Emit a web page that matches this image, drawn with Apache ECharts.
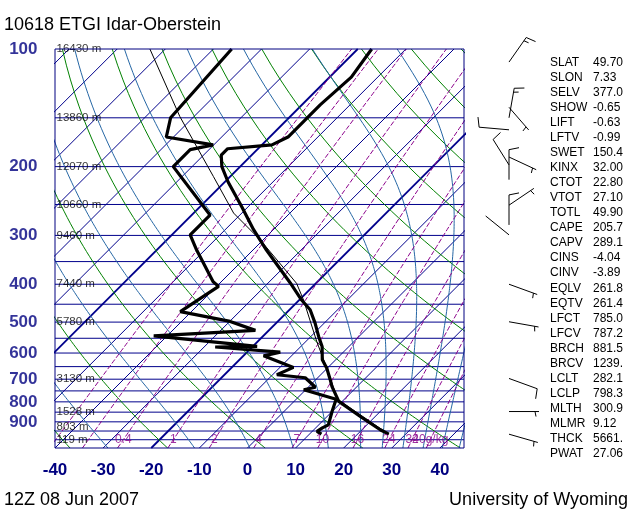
<!DOCTYPE html>
<html>
<head>
<meta charset="utf-8">
<script src="https://cdn.jsdelivr.net/npm/echarts/dist/echarts.min.js"></script>
<style>
  html, body { margin: 0; padding: 0; background: #fff; }
  #main { width: 640px; height: 512px; }
</style>
</head>
<body>
<div id="main"></div>
<script>
// sounding 10618 ETGI, 12Z 08 Jun 2007
var tempP = [100, 118, 139, 168, 176, 180, 187, 200, 219, 253, 290, 327, 397, 439, 465, 503, 544, 577, 624, 656, 702, 731, 778, 798, 872, 943, 968];
var tempT = [-57.1, -55.5, -56.2, -56.2, -57.9, -66.3, -66.3, -63.8, -59.3, -51.4, -44.1, -37.2, -25.4, -19.5, -15.7, -11.9, -8.4, -5.6, -2.8, -0.1, 3.0, 4.8, 8.0, 9.3, 16.9, 23.8, 26.5];

var dewP = [100, 150, 168, 176, 181, 200, 266, 299, 327, 394, 405, 470, 498, 525, 542, 577, 579, 597, 610, 653, 682, 694, 734, 745, 788, 847, 916, 933, 952, 968];
var dewT = [-86.2, -84.6, -81.5, -70.1, -73.9, -73.9, -56.2, -56.2, -51.7, -41.7, -39.6, -42.3, -29.9, -22.8, -42.8, -19.1, -27.7, -13.1, -15.8, -7.2, -9.1, -2.6, 1.5, -0.4, 8.3, 10.0, 12.0, 11.4, 11.0, 12.5];

var parcelP = [100, 149, 212, 263, 308, 398, 439, 561, 656, 788, 968];
var parcelT = [-103.2, -82.9, -63.5, -51.7, -40.6, -24.0, -19.1, -7.7, -0.1, 8.6, 26.5];

// wind barbs: pressure, direction (deg), speed (kt)
var windP = [108, 141, 150, 161, 189, 198, 216, 251, 282, 299, 400, 499, 697, 847, 968];
var windDir = [35, 139, 10, 275, 115, 328, 0, 56, 0, 309, 110, 100, 110, 90, 106];
var windSpd = [15, 5, 15, 10, 3, 10, 10, 5, 10, 2, 5, 5, 10, 5, 5];

// background lines
var isobars = [150, 200, 250, 300, 350, 400, 450, 500, 550, 600, 650, 700, 750, 800, 850, 900, 950, 1000];
var isotherms = [-120, -110, -100, -90, -80, -70, -60, -50, -40, -30, -20, -10, 0, 10, 20, 30, 40];
var dryTheta = [233, 253, 273, 293, 313, 333, 353, 373, 393, 413, 433, 453, 473];
var moistBaseT = [-29, -11, 0.5, 9.5, 16.8, 23.5, 28, 32.3, 36.5, 40.5, 44];
var mixRatios = [0.1, 0.2, 0.4, 1, 2, 4, 7, 10, 16, 24, 32, 40];
var mixLabelled = [0.4, 1, 2, 4, 7, 10, 16, 24, 32, 40];

// axis labels
var pressLabels = [100, 200, 300, 400, 500, 600, 700, 800, 900];
var heightP = [100, 150, 200, 250, 300, 400, 500, 700, 850, 925, 1000];
var heightTxt = ['16430 m', '13860 m', '12070 m', '10660 m', '9460 m', '7440 m', '5780 m', '3130 m', '1528 m', '803 m', '119 m'];

var statNames = ['SLAT', 'SLON', 'SELV', 'SHOW', 'LIFT', 'LFTV', 'SWET', 'KINX', 'CTOT', 'VTOT', 'TOTL', 'CAPE', 'CAPV', 'CINS', 'CINV', 'EQLV', 'EQTV', 'LFCT', 'LFCV', 'BRCH', 'BRCV', 'LCLT', 'LCLP', 'MLTH', 'MLMR', 'THCK', 'PWAT'];
var statValues = ['49.70', '7.33', '377.0', '-0.65', '-0.63', '-0.99', '150.4', '32.00', '22.80', '27.10', '49.90', '205.7', '289.1', '-4.04', '-3.89', '261.8', '261.4', '785.0', '787.2', '881.5', '1239.', '282.1', '798.3', '300.9', '9.12', '5661.', '27.06'];

var PBOT = 1050, PTOP = 100;
var SKEW = 81.2;  // deg of shift per decade of pressure (45 deg isotherms)
var NAVY = '#000080';
var FONT = '"Liberation Sans", Arial, Helvetica, sans-serif';

function skx(T, p) { return T + SKEW * Math.log10(PBOT / p); }

function pairs(P, T) {
  return P.map(function (p, i) { return [skx(T[i], p), p]; });
}

// pressure steps for drawing curves
var steps = [];
for (var pp = PBOT; pp >= PTOP; pp -= 10) steps.push(pp);
if (steps[steps.length - 1] !== PTOP) steps.push(PTOP);

function esat(tc) { return 6.112 * Math.exp(17.67 * tc / (tc + 243.5)); }

function moistLapse(tk, p) {
  var tc = tk - 273.15;
  var es = esat(tc);
  var rs = 0.622 * es / (p - es);
  return (287.04 * tk + 2.501e6 * rs) /
    (p * (1005.7 + 2.501e6 * 2.501e6 * rs * 0.622 / (287.04 * tk * tk)));
}

function moistCurve(t0) {
  var pts = [], tk = t0 + 273.15, dp = -5;
  for (var p = PBOT; p >= PTOP; p += dp) {
    pts.push([skx(tk - 273.15, p), p]);
    var k1 = moistLapse(tk, p);
    var k2 = moistLapse(tk + k1 * dp / 2, p + dp / 2);
    tk += k2 * dp;
  }
  return pts;
}

function dryCurve(th) {
  return steps.map(function (p) {
    return [skx(th * Math.pow(p / 1000, 0.2857) - 273.15, p), p];
  });
}

function mixTd(w, p) {
  var e = w * p / (622 + w);
  var l = Math.log(e / 6.112);
  return 243.5 * l / (17.67 - l);
}

function mixCurve(w) {
  return steps.map(function (p) { return [skx(mixTd(w, p), p), p]; });
}

function bgLine(name, data, color, width, dashed, z) {
  return {
    name: name, type: 'line', data: data, xAxisIndex: 0, yAxisIndex: 0,
    symbol: 'none', silent: true, animation: false, clip: true, z: z,
    lineStyle: { color: color, width: width, type: dashed ? [5, 2] : 'solid' }
  };
}

var series = [];

isobars.forEach(function (p) {
  series.push(bgLine('isobar', [[-40, p], [45, p]], '#00008b', 1, false, 2));
});
isotherms.forEach(function (t) {
  var w = (t === -20 || t === -60) ? 1.8 : 1;
  series.push(bgLine('isotherm', [[skx(t, PBOT), PBOT], [skx(t, PTOP), PTOP]], '#00008b', w, false, 2));
});
dryTheta.forEach(function (th) {
  series.push(bgLine('dry', dryCurve(th), '#008000', 1, false, 2));
});
moistBaseT.forEach(function (t) {
  series.push(bgLine('moist', moistCurve(t), '#2566a4', 1, false, 2));
});
mixRatios.forEach(function (w) {
  series.push(bgLine('mix', mixCurve(w), '#8b008b', 1, true, 2));
});

// profiles
series.push(bgLine('parcel', pairs(parcelP, parcelT), '#000', 1, false, 5));
series.push(bgLine('temp', pairs(tempP, tempT), '#000', 3.2, false, 6));
series.push(bgLine('dew', pairs(dewP, dewT), '#000', 3.2, false, 6));

// label helpers (scatter points carrying text only)
function labelSeries(data, label, z) {
  return {
    type: 'scatter', data: data, symbolSize: 1, silent: true, animation: false,
    itemStyle: { color: 'rgba(0,0,0,0)' }, clip: false, z: z, label: label
  };
}

series.push(labelSeries(
  pressLabels.map(function (p) { return { value: [-40, p], name: String(p) }; }),
  { show: true, position: 'left', distance: 17, formatter: '{b}', color: NAVY,
    fontFamily: FONT, fontWeight: 'bold', fontSize: 17 }, 7));

series.push(labelSeries(
  heightP.map(function (p, i) { return { value: [-40, p], name: heightTxt[i] }; }),
  { show: true, position: 'right', distance: 1, formatter: '{b}', color: '#000',
    fontFamily: FONT, fontSize: 11.5 }, 7));

series.push(labelSeries(
  mixLabelled.map(function (w) {
    return { value: [skx(mixTd(w, 1000), 1000), 1000], name: w === 40 ? '40g/kg' : String(w) };
  }),
  { show: true, position: 'inside', formatter: '{b}', color: '#8b008b',
    fontFamily: FONT, fontSize: 12 }, 7));

// wind barbs in their own strip to the right
series.push({
  type: 'custom', xAxisIndex: 1, yAxisIndex: 1, silent: true, animation: false, clip: false,
  data: windP.map(function (p, i) { return [p, windDir[i], windSpd[i]]; }),
  renderItem: function (params, api) {
    var st = api.coord([0.5, api.value(0)]);
    var a = api.value(1) * Math.PI / 180;
    var spd = api.value(2);
    var ux = Math.sin(a), uy = -Math.cos(a);
    var L = 30;
    var tip = [st[0] + ux * L, st[1] + uy * L];
    var px = -uy, py = ux;
    var style = { stroke: '#000', lineWidth: 1 };
    var kids = [{ type: 'line', shape: { x1: st[0], y1: st[1], x2: tip[0], y2: tip[1] }, style: style }];
    var rest = Math.round(spd / 5) * 5;
    var pos = rest < 10 ? 4 : 0;
    while (rest >= 10) {
      var b = [tip[0] - ux * pos, tip[1] - uy * pos];
      kids.push({ type: 'line', shape: { x1: b[0], y1: b[1], x2: b[0] + px * 10 + ux * 2, y2: b[1] + py * 10 + uy * 2 }, style: style });
      pos += 4; rest -= 10;
    }
    if (rest >= 5) {
      var h = [tip[0] - ux * pos, tip[1] - uy * pos];
      kids.push({ type: 'line', shape: { x1: h[0], y1: h[1], x2: h[0] + px * 5 + ux, y2: h[1] + py * 5 + uy }, style: style });
    }
    return { type: 'group', children: kids };
  }
});

// right-hand index table
var graphics = [
  { type: 'text', x: 4, y: 25, style: { text: '10618 ETGI Idar-Oberstein', font: '18px ' + FONT, fill: '#000', textVerticalAlign: 'middle', verticalAlign: 'middle' } },
  { type: 'text', x: 4, y: 500, style: { text: '12Z 08 Jun 2007', font: '18px ' + FONT, fill: '#000', textVerticalAlign: 'middle', verticalAlign: 'middle' } },
  { type: 'text', x: 628, y: 500, style: { text: 'University of Wyoming', font: '18px ' + FONT, fill: '#000', textAlign: 'right', align: 'right', textVerticalAlign: 'middle', verticalAlign: 'middle' } }
];
statNames.forEach(function (n, i) {
  var y = 62.3 + i * 15.06;
  graphics.push({ type: 'text', x: 550, y: y, style: { text: n, font: '12px ' + FONT, fill: '#000', textVerticalAlign: 'middle', verticalAlign: 'middle' } });
  graphics.push({ type: 'text', x: 593, y: y, style: { text: statValues[i], font: '12px ' + FONT, fill: '#000', textVerticalAlign: 'middle', verticalAlign: 'middle' } });
});

var chart = echarts.init(document.getElementById('main'), null, { renderer: 'canvas' });
chart.setOption({
  animation: false,
  backgroundColor: '#fff',
  grid: [
    { left: 55, top: 49, width: 409, height: 399, show: true, borderColor: NAVY, borderWidth: 1, backgroundColor: 'transparent', z: 8 },
    { left: 469, top: 49, width: 80, height: 399, show: false }
  ],
  xAxis: [
    { gridIndex: 0, type: 'value', min: -40, max: 45, interval: 10,
      axisLine: { show: false }, axisTick: { show: false }, splitLine: { show: false },
      axisLabel: { showMaxLabel: false, margin: 14, color: NAVY, fontFamily: FONT, fontWeight: 'bold', fontSize: 17,
        formatter: function (v) { return v % 10 === 0 ? String(v) : ''; } } },
    { gridIndex: 1, type: 'value', min: 0, max: 1, show: false }
  ],
  yAxis: [
    { gridIndex: 0, type: 'log', logBase: 10, min: PTOP, max: PBOT, inverse: true,
      axisLine: { show: false }, axisTick: { show: false }, splitLine: { show: false }, axisLabel: { show: false } },
    { gridIndex: 1, type: 'log', logBase: 10, min: PTOP, max: PBOT, inverse: true, show: false }
  ],
  graphic: graphics,
  series: series
});
</script>
</body>
</html>
